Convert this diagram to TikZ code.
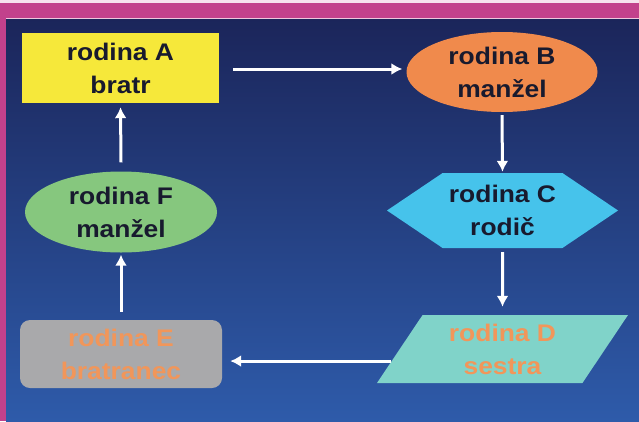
\documentclass[tikz,border=0pt]{standalone}
\usepackage{fontspec}
\setmainfont[FakeStretch=1.1]{Liberation Sans}
\usepackage{xcolor}
\usetikzlibrary{arrows.meta}
\usetikzlibrary{calc, math}
\usetikzlibrary{shapes.geometric, shapes.symbols}
\definecolor{mymagenta}{RGB}{194, 65, 140}
\definecolor{mytop}{RGB}{27, 37, 90}
\definecolor{mymid}{RGB}{36, 80, 162}
\definecolor{mybot}{RGB}{46, 91, 170}
\definecolor{myyellow}{RGB}{246, 232, 58}
\definecolor{myorange}{RGB}{240, 138, 76}
\definecolor{mycyan}{RGB}{70, 195, 235}
\definecolor{myteal}{RGB}{128, 211, 201}
\definecolor{mygray}{RGB}{169, 169, 171}
\definecolor{mygreen}{RGB}{134, 199, 126}
\definecolor{mydark}{RGB}{24, 26, 46}
\definecolor{mytext}{RGB}{241, 150, 90}

\begin{document}
\begin{tikzpicture}[x=1pt, y=-1pt,
family/.style={align=center, inner sep=0pt, text=mydark,
  font=\bfseries\fontsize{24}{33}\selectfont},
flow/.style={-{Latex[length=11pt,width=12pt]}, white, line width=3pt}]
\tikzmath{
\W=639;
\H=421;
\side=6;
\bar=18;
}
\useasboundingbox (0,0) rectangle (\W,\H);

\fill[mymagenta] (0,0) rectangle (\W,\H);
\fill[white!85!mymagenta] (0,0) rectangle (\W,3);
\shade[top color=mytop, middle color=mymid, bottom color=mybot] (\side,\bar) rectangle (\W,\H);
\draw[white!70!mymagenta, line width=1] (\side,\bar) -- (\W,\bar);

\node[family, rectangle, fill=myyellow, minimum width=197, minimum height=70] (A) at (120.5,68) {rodina A\\bratr};
\node[family, ellipse, fill=myorange, minimum width=191, minimum height=80] (B) at (502,72) {rodina B\\manžel};
\node[family, signal, signal to=east and west, signal pointer angle=68, fill=mycyan, minimum width=231, minimum height=75] (C) at (502.5,210.5) {rodina C\\rodič};
\node[family, trapezium, trapezium left angle=48, trapezium right angle=132, trapezium stretches body, fill=myteal, text=mytext, minimum width=251, minimum height=68] (D) at (502.5,349) {rodina D\\sestra};
\node[family, rectangle, rounded corners=10, fill=mygray, text=mytext, minimum width=202, minimum height=68] (E) at (121,354) {rodina E\\bratranec};
\node[family, ellipse, fill=mygreen, minimum width=192, minimum height=81] (F) at (121,212) {rodina F\\manžel};

\coordinate (d) at ($(D.bottom left corner)!0.324!(D.top left corner)$);

\draw[flow] ($(A.east)+(14,1)$) -- ($(A.east -| B.west)+(-4,1)$);
\draw[flow] ($(B.south)+(0,3)$) -- ($(C.north)+(0,-1)$);
\draw[flow] ($(C.south)+(0,4)$) -- ($(D.north)+(0,-8)$);
\draw[flow] (d) -- ($(d -| E.east)+(8,0)$);
\draw[flow] ($(E.north)+(0,-8)$) -- ($(F.south)+(0,2)$);
\draw[flow] ($(F.north)+(0,-9)$) -- ($(A.south)+(0,4)$);
\end{tikzpicture}
\end{document}
